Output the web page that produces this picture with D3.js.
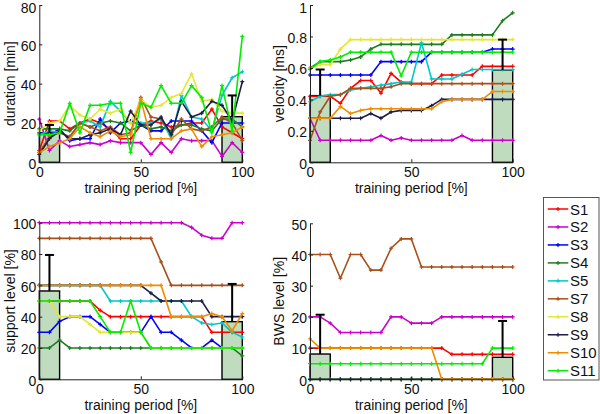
<!DOCTYPE html>
<html>
<head>
<meta charset="utf-8">
<script src="https://cdn.jsdelivr.net/npm/d3@7"></script>
<style>
  html, body { margin: 0; padding: 0; background: #fff; }
  svg { display: block; font-family: "Liberation Sans", Arial, sans-serif; }
</style>
</head>
<body>
<svg id="chart" width="600" height="414"></svg>
<script>
// ---------- DATA ----------
const seriesNames = ["S1","S2","S3","S4","S5","S7","S8","S9","S10","S11"];
const seriesColors = ["#ff0000","#cc00cc","#0000ff","#1e7d1e","#00c8c8","#a8501a","#e6e632","#1e1e46","#f08c00","#00ee00"];
const xGrid = [0,5,10,15,20,25,30,35,40,45,50,55,60,65,70,75,80,85,90,95,100];
const xTicks = [0, 50, 100];

const durationValues = [
  [6,21,21,17,20,22,20,17,12,12,19,21,20,18,19,20,20,27,18,15,12],
  [22,6,11,8,9,10,9,11,10,10,10,4,10,5,12,11,11,11,3,10,5],
  [15,14,17,11,12,12,22,15,20,21,19,16,16,21,21,21,16,10,20,20,20],
  [17,17,17,16,20,18,20,21,20,16,19,17,18,16,19,19,17,16,22,22,18],
  [14,16,15,13,20,21,18,31,26,20,20,20,22,12,34,23,22,16,34,43,46],
  [5,13,15,13,20,18,16,18,14,15,33,23,22,14,22,17,16,18,23,20,11],
  [16,20,21,29,24,22,27,25,27,20,32,28,29,33,35,45,31,32,26,25,25],
  [4,12,16,12,12,14,15,17,14,26,19,19,23,14,31,23,25,31,29,21,41],
  [5,8,10,12,18,15,13,16,13,14,32,12,12,12,16,17,8,13,14,15,18],
  [14,14,15,30,15,29,29,30,30,5,30,28,39,30,30,39,33,15,39,16,64]
];
const velocityValues = [
  [.42,.42,.42,.375,.47,.52,.52,.44,.565,.51,.5,.5,.5,.555,.555,.555,.555,.61,.61,.61,.61],
  [.28,.14,.14,.14,.14,.14,.14,.17,.14,.155,.14,.14,.14,.14,.14,.17,.14,.14,.14,.14,.14],
  [.555,.555,.555,.555,.555,.555,.555,.64,.64,.64,.64,.64,.7,.7,.7,.7,.7,.7,.72,.72,.72],
  [.6,.64,.64,.64,.65,.67,.72,.75,.75,.75,.75,.75,.75,.75,.81,.81,.81,.81,.81,.9,.95],
  [.385,.42,.43,.43,.46,.47,.48,.49,.5,.51,.51,.76,.53,.53,.53,.56,.59,.59,.59,.59,.59],
  [.14,.32,.42,.43,.47,.47,.47,.47,.48,.5,.5,.5,.5,.5,.5,.5,.5,.5,.5,.5,.5],
  [.6,.62,.62,.72,.78,.78,.78,.78,.78,.78,.78,.78,.78,.78,.78,.78,.78,.78,.78,.78,.78],
  [.28,.28,.28,.28,.28,.28,.31,.28,.32,.33,.33,.33,.36,.4,.4,.4,.4,.4,.4,.4,.4],
  [.28,.28,.28,.355,.31,.33,.34,.34,.34,.34,.34,.34,.34,.385,.4,.4,.4,.4,.45,.45,.45],
  [.59,.64,.65,.67,.7,.7,.7,.7,.7,.55,.7,.7,.7,.7,.7,.7,.7,.7,.7,.7,.7]
];
const supportValues = [
  [50,50,50,50,50,50,44,40,40,40,40,40,40,40,40,40,40,30,30,30,30],
  [100,100,100,100,100,100,100,100,100,100,100,100,100,100,100,97,92,90,90,100,100],
  [30,30,37,40,40,40,35,30,30,30,30,40,30,30,25,20,20,25,20,20,20],
  [20,20,25,20,20,20,20,20,20,20,20,20,20,20,20,20,20,20,20,20,15],
  [60,60,60,60,60,60,60,50,50,50,50,50,50,50,50,40,36,35,36,30,27],
  [90,90,90,90,90,90,90,90,90,90,90,90,75,60,60,60,60,60,60,60,60],
  [50,50,40,40,40,35,30,30,30,30,30,20,20,20,20,20,20,20,20,20,20],
  [60,60,60,60,60,60,60,60,60,60,60,55,50,50,50,50,50,40,40,40,40],
  [60,60,60,60,60,60,60,60,60,60,60,60,60,40,40,40,40,42,40,31,42],
  [50,50,50,50,50,50,40,30,30,50,30,20,20,20,20,20,20,20,20,20,20]
];
const bwsValues = [
  [10,10,10,10,10,10,10,10,10,10,10,10,10,10,8,8,8,8,8,8,8],
  [20,20,18,15,15,15,15,15,20,20,18,18,18,20,20,20,20,20,20,20,20],
  [0,0,0,0,0,0,0,0,0,0,0,0,0,0,0,0,0,0,0,0,0],
  [0,0,0,0,0,0,0,0,0,0,0,0,0,0,0,0,0,0,0,0,0],
  [0,0,0,0,0,0,0,0,0,0,0,0,0,0,0,0,0,0,0,0,0],
  [40,40,40,32.4,40,40,35,35,42,45,45,36,36,36,36,36,36,36,36,36,36],
  [0,0,0,0,0,0,0,0,0,0,0,0,0,0,0,0,0,0,0,0,0],
  [0,0,0,0,0,0,0,0,0,0,0,0,0,0,0,0,0,0,0,0,0],
  [13,10,10,10,10,10,10,10,10,10,10,10,10,0,0,0,0,0,0,0,0],
  [5,5,5,5,5,5,5,5,5,5,5,5,5,5,5,5,5,5,10,10,10]
];

// group bars: start/end of training window (in %), mean and mean+SD
const barStart = [0, 90];
const barEnd = [10, 100];
const durationBars = [15, 23.2],  durationErr = [19, 34];
const velocityBars = [0.424, 0.587], velocityErr = [0.59, 0.78];
const supportBars = [56.4, 36.8], supportErr = [79.4, 60.9];
const bwsBars = [8.1, 7.05],      bwsErr = [20.7, 18.7];

const durationTicks = [0,20,40,60,80];
const velocityTicks = [0,0.2,0.4,0.6,0.8,1];
const supportTicks = [0,20,40,60,80,100];
const bwsTicks = [0,10,20,30,40,50];

// ---------- DRAW ----------
const svg = d3.select("#chart");

const panels = [
  {x0:39.3, x1:242.3, yTop:5,     yBot:162.3, max:80,  ticks:durationTicks, fmt:d3.format("d"),
   values:durationValues, bars:durationBars, err:durationErr, ylabel:"duration [min]", labelX:15, xlabY:193},
  {x0:310,  x1:512.7, yTop:5,     yBot:162.3, max:1,   ticks:velocityTicks, fmt:d=>String(d),
   values:velocityValues, bars:velocityBars, err:velocityErr, ylabel:"velocity [ms]", labelX:284, xlabY:193},
  {x0:39.3, x1:242.3, yTop:222.7, yBot:379.3, max:100, ticks:supportTicks, fmt:d3.format("d"),
   values:supportValues, bars:supportBars, err:supportErr, ylabel:"support level [%]", labelX:15, xlabY:410},
  {x0:310,  x1:512.7, yTop:223.3, yBot:379.3, max:50,  ticks:bwsTicks, fmt:d3.format("d"),
   values:bwsValues, bars:bwsBars, err:bwsErr, ylabel:"BWS level [%]", labelX:284, xlabY:410}
];

const plus = "M-2,0H2M0,-2V2";

panels.forEach(p => {
  const x = d3.scaleLinear().domain([0,100]).range([p.x0, p.x1]);
  const y = d3.scaleLinear().domain([0,p.max]).range([p.yBot, p.yTop]);
  const g = svg.append("g");

  // bars
  g.selectAll("rect.bar").data(p.bars).join("rect")
    .attr("x", (d,i) => x(barStart[i]))
    .attr("width", (d,i) => x(barEnd[i]) - x(barStart[i]))
    .attr("y", d => y(d))
    .attr("height", d => y(0) - y(d))
    .attr("fill", "#bfdcbf")
    .attr("stroke", "#000")
    .attr("stroke-width", 1.4);

  // lines
  const line = d3.line().x((d,i) => x(xGrid[i])).y(d => y(d));
  p.values.forEach((vals, si) => {
    g.append("path").datum(vals)
      .attr("d", line)
      .attr("fill", "none")
      .attr("stroke", seriesColors[si])
      .attr("stroke-width", 1.6)
      .attr("stroke-linejoin", "round");
    g.selectAll(null).data(vals).join("path")
      .attr("transform", (d,i) => `translate(${x(xGrid[i])},${y(d)})`)
      .attr("d", plus)
      .attr("stroke", seriesColors[si])
      .attr("stroke-width", 1.2);
  });

  // error bars
  p.err.forEach((e, i) => {
    const cx = x((barStart[i] + barEnd[i]) / 2);
    g.append("line").attr("x1", cx).attr("x2", cx)
      .attr("y1", y(p.bars[i])).attr("y2", y(e))
      .attr("stroke", "#000").attr("stroke-width", 2);
    g.append("line").attr("x1", cx - 4.5).attr("x2", cx + 4.5)
      .attr("y1", y(e)).attr("y2", y(e))
      .attr("stroke", "#000").attr("stroke-width", 2);
  });

  // axes
  const xAxis = d3.axisBottom(x).tickValues(xTicks).tickSize(-3).tickSizeOuter(0).tickPadding(5);
  const yAxis = d3.axisLeft(y).tickValues(p.ticks).tickFormat(p.fmt).tickSize(-3).tickSizeOuter(0).tickPadding(3);
  const gx = svg.append("g").attr("transform", `translate(0,${p.yBot})`).call(xAxis);
  const gy = svg.append("g").attr("transform", `translate(${p.x0},0)`).call(yAxis);
  [gx, gy].forEach(a => {
    a.select(".domain").attr("stroke", "#222").attr("stroke-width", 1);
    a.selectAll(".tick line").attr("stroke", "#222");
    a.selectAll(".tick text").attr("fill", "#111").style("font-size", "14px")
      .style("font-family", "'Liberation Sans', Arial, sans-serif");
  });
  // keep the topmost label inside the page edge
  gy.selectAll(".tick text").attr("dy", d => (y(d) < 10 ? "0.56em" : "0.42em"));

  // labels
  svg.append("text")
    .attr("x", (p.x0 + p.x1) / 2).attr("y", p.xlabY)
    .attr("text-anchor", "middle").style("font-size", "14px").attr("fill", "#111")
    .text("training period [%]");
  svg.append("text")
    .attr("transform", `translate(${p.labelX},${(p.yTop + p.yBot) / 2}) rotate(-90)`)
    .attr("text-anchor", "middle").style("font-size", "14px").attr("fill", "#111")
    .text(p.ylabel);
});

// legend
const leg = svg.append("g");
leg.append("rect").attr("x", 543.5).attr("y", 197.5).attr("width", 55.5).attr("height", 182.5)
  .attr("fill", "#fff").attr("stroke", "#555").attr("stroke-width", 1);
const rowY = d3.scaleLinear().domain([0, seriesNames.length - 1]).range([209, 370.7]);
seriesNames.forEach((name, i) => {
  const yy = rowY(i);
  leg.append("line").attr("x1", 547.7).attr("x2", 568.3).attr("y1", yy).attr("y2", yy)
    .attr("stroke", seriesColors[i]).attr("stroke-width", 1.5);
  leg.append("path").attr("transform", `translate(558,${yy})`).attr("d", plus)
    .attr("stroke", seriesColors[i]).attr("stroke-width", 1.2);
  leg.append("text").attr("x", 570).attr("y", yy + 5.5).style("font-size", "15px")
    .attr("fill", "#111").text(name);
});
</script>
</body>
</html>
